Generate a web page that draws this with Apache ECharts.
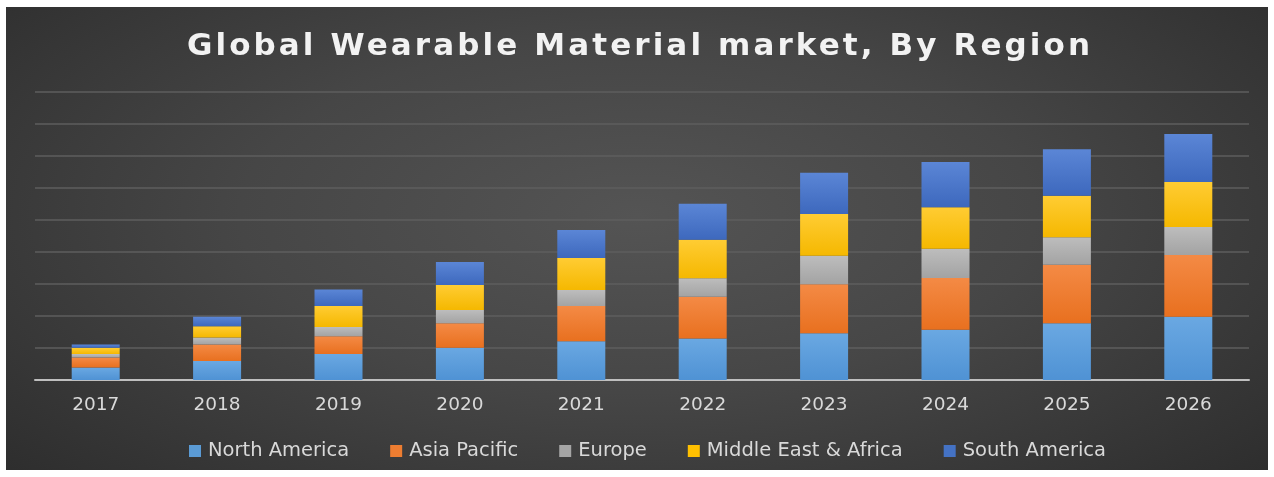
<!DOCTYPE html>
<html>
<head>
<meta charset="utf-8">
<script src="https://cdn.jsdelivr.net/npm/echarts@6/dist/echarts.min.js"></script>
<style>
  html, body { margin: 0; padding: 0; background: #ffffff; }
  #wrap { position: relative; width: 1274px; height: 477px; background: #ffffff; overflow: hidden; }
  #chart {
    position: absolute; left: 6px; top: 7px; width: 1262px; height: 463px;
    background: radial-gradient(ellipse 70% 85% at 50% 45%, #545454 0%, #464646 45%, #2c2c2c 100%);
  }
  #title {
    position: absolute; left: 3px; top: 29px; width: 1274px; height: 31px;
    text-align: center; font-family: 'DejaVu Sans', sans-serif; font-weight: bold;
    font-size: 31px; line-height: 31px; letter-spacing: 3.1px; color: #f2f2f2;
    white-space: nowrap; pointer-events: none;
  }
</style>
</head>
<body>
<div id="wrap"><div id="chart"></div><div id="title"></div></div>
<script>
const titleText = 'Global Wearable Material market, By Region';
const categories = ['2017', '2018', '2019', '2020', '2021', '2022', '2023', '2024', '2025', '2026'];
const northAmerica = [0.39, 0.59, 0.81, 1.01, 1.21, 1.30, 1.46, 1.57, 1.77, 1.98];
const asiaPacific = [0.31, 0.52, 0.56, 0.76, 1.10, 1.30, 1.53, 1.62, 1.83, 1.93];
const europe = [0.11, 0.22, 0.29, 0.42, 0.50, 0.58, 0.89, 0.91, 0.86, 0.87];
const middleEastAfrica = [0.20, 0.35, 0.65, 0.78, 1.00, 1.20, 1.31, 1.30, 1.30, 1.41];
const southAmerica = [0.10, 0.30, 0.52, 0.72, 0.88, 1.13, 1.29, 1.41, 1.45, 1.50];
const seriesNames = ['North America', 'Asia Pacific', 'Europe', 'Middle East & Africa', 'South America'];

document.getElementById('title').textContent = titleText;

const palette = [
  ['#6aa8e2', '#4f92d4'],
  ['#f48a45', '#e8701f'],
  ['#bdbdbd', '#a3a3a3'],
  ['#ffcc33', '#f5b800'],
  ['#5b86d6', '#3d68bd']
];
const legendColors = ['#5b9bd5', '#ed7d31', '#a5a5a5', '#ffc000', '#4472c4'];

function grad(c) {
  return new echarts.graphic.LinearGradient(0, 0, 0, 1, [
    { offset: 0, color: c[0] }, { offset: 1, color: c[1] }
  ]);
}

const dataSets = [northAmerica, asiaPacific, europe, middleEastAfrica, southAmerica];

const chart = echarts.init(document.getElementById('chart'), null, { renderer: 'canvas' });
chart.setOption({
  backgroundColor: 'transparent',
  animation: false,
  legend: {
    left: 183,
    top: 434,
    padding: 0,
    itemWidth: 12,
    itemHeight: 12,
    itemGap: 41,
    icon: 'rect',
    textStyle: { color: '#d9d9d9', fontSize: 19.5, fontFamily: 'DejaVu Sans', padding: [0, 0, 0, 2] },
    data: seriesNames.map((n, i) => ({ name: n, itemStyle: { color: legendColors[i] } }))
  },
  grid: { left: 29, right: 19, top: 85, bottom: 90 },
  xAxis: {
    type: 'category',
    data: categories,
    axisLine: { lineStyle: { color: '#bfbfbf', width: 2 } },
    axisTick: { show: false },
    axisLabel: { color: '#d9d9d9', fontSize: 18.5, fontFamily: 'DejaVu Sans', margin: 16 }
  },
  yAxis: {
    type: 'value',
    min: 0,
    max: 9,
    interval: 1,
    axisLabel: { show: false },
    axisLine: { show: false },
    axisTick: { show: false },
    splitLine: { lineStyle: { color: '#5e5e5e', width: 1.5 } }
  },
  series: seriesNames.map((name, i) => ({
    name: name,
    type: 'bar',
    stack: 'total',
    barWidth: 48,
    data: dataSets[i],
    itemStyle: { color: grad(palette[i]) },
    emphasis: { disabled: true }
  }))
});
</script>
</body>
</html>
